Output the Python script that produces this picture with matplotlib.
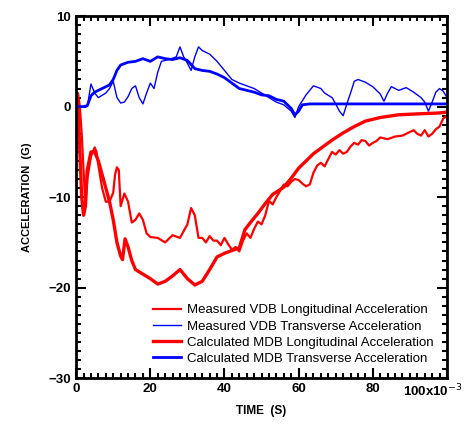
import matplotlib.pyplot as plt
from matplotlib.ticker import MultipleLocator
from matplotlib.transforms import ScaledTranslation

plt.rcParams['font.family'] = ['Liberation Sans', 'DejaVu Sans']

# time in ms (axis shown as x10^-3 s), acceleration in G
t_meas_long = [0, 0.5, 1, 1.5, 2, 2.5, 3, 4, 5, 5.5, 6, 7, 8, 9, 10, 10.5, 11, 11.5, 12, 13,
               14, 15, 16, 17, 18, 19, 20, 22, 24, 26, 28, 30, 31, 32, 33, 34, 35, 36, 37, 38,
               39, 40, 41, 42, 43, 44, 45, 46, 47, 48, 49, 50, 51, 52, 53, 54, 55, 56, 57, 58,
               59, 60, 61, 62, 63, 64, 65, 66, 67, 68, 69, 70, 71, 72, 73, 74, 75, 76, 77, 78,
               79, 80, 81, 82, 84, 86, 88, 90, 91, 92, 93, 94, 95, 96, 97, 98, 99, 100]
a_meas_long = [0, 1.5, 0, -3, -7, -11, -8, -5.5, -4.5, -5, -6.5, -9, -10.5, -10.5, -9.5, -7.5,
               -6.7, -7, -11, -9.6, -10.5, -12.8, -12.5, -11.8, -12.5, -14, -14.4, -14.5, -15,
               -14.2, -14.5, -13, -11.2, -12, -14.5, -14.5, -15, -14.3, -14.8, -14.8, -15.3,
               -14.5, -15.2, -15.8, -15.5, -16, -14.8, -14, -14.5, -13.5, -12.7, -13, -12,
               -10.4, -10.8, -10, -9.3, -8.6, -8.8, -8.3, -8, -8.1, -8.5, -8.8, -8.6, -7.3,
               -6.5, -6.2, -6.6, -5.8, -5, -5.3, -4.8, -5.2, -5, -4.4, -4, -4.2, -3.7, -3.8,
               -4.3, -4, -3.8, -3.4, -3.6, -3.3, -3.2, -2.8, -2.6, -3, -3.2, -2.6, -3.3, -3,
               -2.5, -2.2, -1.3, -1]

t_calc_long = [0, 0.5, 1, 1.5, 2, 2.5, 3, 4, 5, 6, 7, 8, 9, 10, 11, 12, 12.5, 13.2, 14, 15,
               16, 18, 20, 22, 24, 26, 28, 30, 32, 34, 36, 38, 40, 42, 44, 45.5, 47, 49, 51,
               53, 56, 58, 60, 62, 64, 66, 69, 72, 75, 78, 82, 87, 92, 98, 100]
a_calc_long = [1.5, 0, -5, -10, -12, -11, -7, -5, -5, -6, -7.5, -9, -10.5, -12.5, -15, -16.5,
               -16.9, -14.6, -15.5, -17, -18, -18.5, -19, -19.6, -19.3, -18.7, -18, -19,
               -19.7, -19.3, -18, -16.6, -16.2, -15.9, -15.6, -13.6, -12.8, -11.8, -10.7,
               -9.7, -8.9, -7.9, -6.8, -6, -5.2, -4.6, -3.7, -2.9, -2.2, -1.6, -1.2, -0.9,
               -0.8, -0.7, -0.6]

t_meas_trans = [0, 3, 4, 5, 6, 8, 9, 10, 11, 12, 13, 14, 15, 16, 17, 18, 19, 20, 21, 22, 23,
                25, 27, 28, 29, 30, 31, 32, 33, 34, 36, 38, 40, 42, 44, 46, 48, 50, 52, 54,
                56, 58, 59, 60, 62, 64, 66, 67, 69, 70, 71, 72, 73, 74, 75, 76, 78, 80, 82,
                83, 84, 85, 87, 89, 91, 93, 94, 95, 96, 97, 98, 99, 100]
a_meas_trans = [0, 0, 2.5, 1.5, 1.0, 1.5, 2.0, 2.8, 1.0, 0.4, 0.5, 1.1, 2.0, 2.3, 1.0, 0.3,
                1.5, 2.6, 2.0, 3.8, 5.0, 5.2, 5.5, 6.6, 5.5, 4.8, 4.0, 5.5, 6.6, 6.2, 5.8,
                5.0, 4.0, 3.0, 2.6, 2.3, 2.0, 1.5, 1.0, 0.5, 0.2, -0.5, -1.2, 0.0, 1.3, 2.3,
                2.0, 1.5, 1.0, 0.3, -0.5, -1.0, 0.3, 1.5, 2.8, 3.0, 2.7, 2.2, 1.4, 0.6, 1.5,
                2.2, 1.8, 2.1, 1.6, 1.0, 0.5, -0.5, 0.5, 1.6, 2.0, 1.7, 1.0]

t_calc_trans = [0, 2, 3, 4, 5, 7, 9, 10, 11, 12, 14, 16, 18, 20, 22, 24, 26, 28, 30, 32, 34,
                36, 38, 40, 42, 44, 46, 48, 50, 52, 54, 56, 58, 59, 60, 61, 63, 100]
a_calc_trans = [0, 0, 0.1, 1.2, 1.6, 2.0, 2.4, 3.0, 4.0, 4.6, 4.9, 5.0, 5.3, 5.0, 5.5, 5.3,
                5.2, 5.4, 5.1, 4.2, 4.0, 3.9, 3.6, 3.2, 2.6, 2.0, 1.8, 1.6, 1.3, 1.2, 0.8,
                0.6, -0.2, -0.9, -0.5, 0.2, 0.3, 0.3]

fig = plt.figure(figsize=(4.7, 4.24), dpi=100)
ax = fig.add_axes([0.162, 0.108, 0.789, 0.854])

ax.plot(t_meas_long, a_meas_long, color='red', lw=1.6,
        label='Measured VDB Longitudinal Acceleration')
ax.plot(t_meas_trans, a_meas_trans, color='blue', lw=1.0,
        label='Measured VDB Transverse Acceleration')
ax.plot(t_calc_long, a_calc_long, color='red', lw=2.4,
        label='Calculated MDB Longitudinal Acceleration')
ax.plot(t_calc_trans, a_calc_trans, color='blue', lw=2.0,
        label='Calculated MDB Transverse Acceleration')

ax.set_xlim(0, 100)
ax.set_ylim(-30, 10)
ax.xaxis.set_minor_locator(MultipleLocator(2))
ax.yaxis.set_major_locator(MultipleLocator(10))
ax.yaxis.set_minor_locator(MultipleLocator(1))
ax.set_xticks([0, 20, 40, 60, 80, 100])
ax.set_xticklabels(['0', '20', '40', '60', '80', '100x10$^{-3}$'])
ax.tick_params(which='both', direction='in', top=True, right=True, width=1.5,
               labelsize=9.5)
ax.tick_params(which='major', length=7)
ax.tick_params(which='minor', length=3.5)
for lab in ax.get_xticklabels() + ax.get_yticklabels():
    lab.set_fontweight('bold')
last = ax.get_xticklabels()[-1]
last.set_transform(last.get_transform() + ScaledTranslation(-10 / 72, 0, fig.dpi_scale_trans))
for s in ax.spines.values():
    s.set_linewidth(2)

ax.set_xlabel('TIME  (S)', fontsize=8.5, fontweight='bold')
ax.set_ylabel('ACCELERATION  (G)', fontsize=8, fontweight='bold', labelpad=12)

ax.legend(loc='lower right', fontsize=9.5, frameon=False, handlelength=2.1,
          handletextpad=0.5, labelspacing=0.3, borderaxespad=0.6)

fig.savefig('out.png', dpi=100)
